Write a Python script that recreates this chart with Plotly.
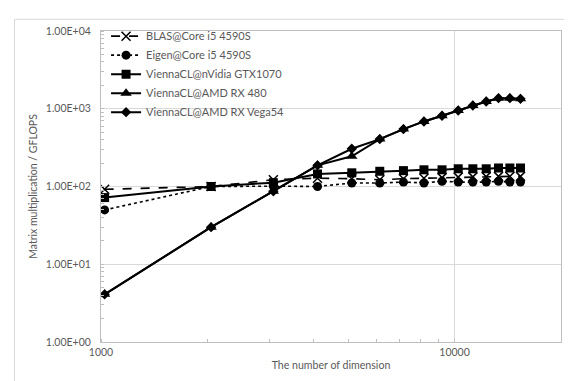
import plotly.graph_objects as go

dims = [1024, 2048, 3072, 4096, 5120, 6144, 7168, 8192, 9216, 10240, 11264, 12288, 13312, 14336, 15360]
blas = [92, 100, 122, 128, 126, 122, 126, 128, 130, 132, 133, 134, 135, 135, 135]
eigen = [50, 100, 101, 100, 111, 111, 114, 111, 117, 114, 114, 114, 117, 114, 114]
gtx1070 = [72, 100, 112, 145, 150, 157, 160, 164, 164, 169, 169, 169, 173, 173, 173]
rx480 = [4.1, 30, 87, 187, 245, 407, 547, 687, 811, 951, 1102, 1241, 1368, 1368, 1340]
vega54 = [4.1, 30, 87, 187, 306, 407, 547, 687, 811, 951, 1102, 1241, 1368, 1368, 1340]

names = ["BLAS@Core i5 4590S", "Eigen@Core i5 4590S", "ViennaCL@nVidia GTX1070",
         "ViennaCL@AMD RX 480", "ViennaCL@AMD RX Vega54"]
y_tickvals = [1, 10, 100, 1000, 10000]
y_ticktext = ["1.00E+00", "1.00E+01", "1.00E+02", "1.00E+03", "1.00E+04"]
x_tickvals = [1000, 10000]
x_ticktext = ["1000", "10000"]

FONT = "Lato"
GRAY = "#595959"

fig = go.Figure()
specs = [
    (blas, "dash", 1.6, dict(symbol="x-thin-open", size=9, line=dict(width=1.5, color="black"))),
    (eigen, "dot", 1.6, dict(symbol="circle", size=9)),
    (gtx1070, "solid", 2, dict(symbol="square", size=9)),
    (rx480, "solid", 2, dict(symbol="triangle-up", size=10)),
    (vega54, "solid", 2, dict(symbol="diamond", size=8)),
]
for (vals, dash, lw, marker), name in zip(specs, names):
    marker = dict(marker, color="black")
    fig.add_trace(go.Scatter(
        x=dims, y=vals, name=name, mode="lines+markers",
        line=dict(color="black", width=lw, dash=dash),
        marker=marker,
    ))

fig.update_layout(
    width=572, height=381,
    margin=dict(l=93, r=19, t=23, b=47),
    paper_bgcolor="white", plot_bgcolor="white",
    font=dict(family=FONT, size=10.5, color=GRAY),
    showlegend=True,
    legend=dict(x=0.011, y=1.03, xanchor="left", yanchor="top",
                bgcolor="rgba(0,0,0,0)", font=dict(family=FONT, size=11, color=GRAY),
                tracegroupgap=0, itemwidth=30),
    xaxis=dict(type="log", range=[3, 4.301],
               tickvals=x_tickvals, ticktext=x_ticktext,
               showgrid=True, gridcolor="#d9d9d9", gridwidth=1,
               showline=True, linecolor="#bfbfbf", linewidth=1, mirror=True,
               ticks="", ticklabelstandoff=0,
               minor=dict(ticks="inside", ticklen=3, tickcolor="#bfbfbf", showgrid=False, dtick="D1"),
               zeroline=False,
               title=dict(text="The number of dimension", standoff=4,
                          font=dict(family=FONT, size=10.6, color=GRAY))),
    yaxis=dict(type="log", range=[0, 4],
               tickvals=y_tickvals, ticktext=y_ticktext,
               showgrid=True, gridcolor="#d9d9d9", gridwidth=1,
               showline=True, linecolor="#bfbfbf", linewidth=1, mirror=True,
               ticks="", ticklabelstandoff=7,
               minor=dict(ticks="inside", ticklen=3, tickcolor="#bfbfbf", showgrid=False, dtick="D1"),
               zeroline=False,
               title=dict(text="Matrix multiplication / GFLOPS", standoff=6,
                          font=dict(family=FONT, size=10.5, color=GRAY))),
    shapes=[dict(type="rect", xref="paper", yref="paper",
                 x0=-0.188, x1=1.0377, y0=-0.2, y1=1.0375,
                 line=dict(color="#d9d9d9", width=1), fillcolor="rgba(0,0,0,0)",
                 layer="below")],
)

fig.write_html("out.html")
